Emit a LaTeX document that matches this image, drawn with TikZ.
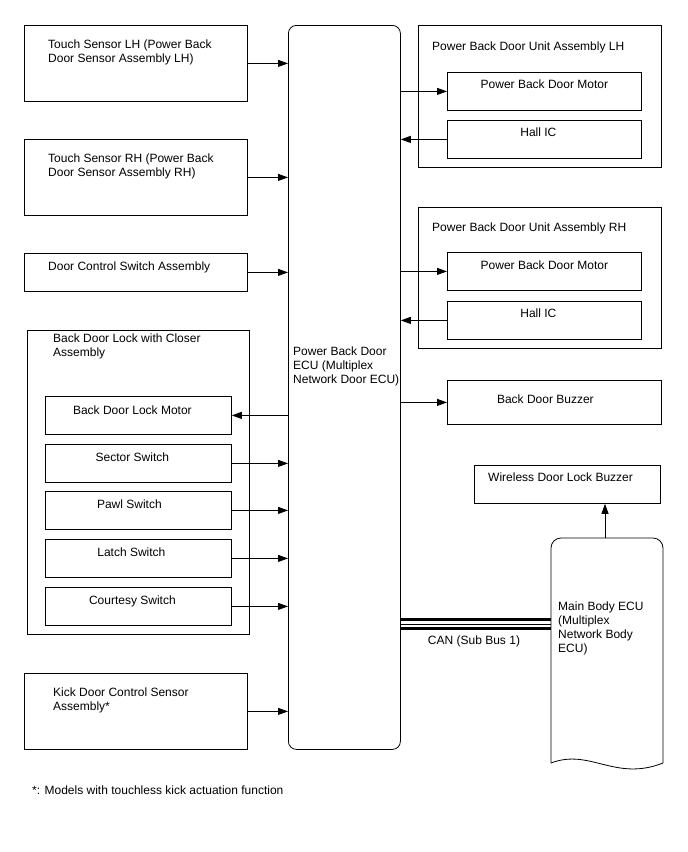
\documentclass[tikz,border=0pt]{standalone}
\usepackage{fontspec}
\setmainfont{Liberation Sans}
\usepackage{tikz}
\usetikzlibrary{arrows.meta,positioning,calc}

\tikzset{
  unit/.style={draw, line width=0.8pt, anchor=north west, inner sep=0pt},
  ttl/.style={anchor=north west, inner sep=0pt, align=left},
  ttc/.style={anchor=north, inner sep=0pt},
  sig/.style={-{Triangle[length=10pt,width=7pt]}, line width=0.8pt},
}

\begin{document}
\begin{tikzpicture}[x=1pt, y=-1pt, every node/.style={font=\fontsize{12}{14}\selectfont}]
  \useasboundingbox (0,0) rectangle (688,852);
  % central ECU
  \node[unit, rounded corners=8pt, minimum width=112pt, minimum height=724pt] (ecu) at (288,25) {};
  \node[ttl] (ecutxt) at (293,347) {Power Back Door\\ECU (Multiplex\\Network Door ECU)};
  % left inputs
  \node[unit, minimum width=223pt, minimum height=76pt,
        label={[ttl, xshift=24pt, yshift=-15pt]north west:{Touch Sensor LH (Power Back\\Door Sensor Assembly LH)}}] (tsl) at (24,25) {};
  \node[unit, minimum width=223pt, minimum height=76pt,
        label={[ttl, xshift=24pt, yshift=-15pt]north west:{Touch Sensor RH (Power Back\\Door Sensor Assembly RH)}}] (tsr) at (24,139) {};
  \node[unit, minimum width=223pt, minimum height=38pt,
        label={[ttl, xshift=24pt, yshift=-9pt]north west:{Door Control Switch Assembly}}] (dcs) at (24,253) {};
  % back door lock group
  \node[unit, minimum width=222pt, minimum height=304pt,
        label={[ttl, xshift=26pt, yshift=-4pt]north west:{Back Door Lock with Closer\\Assembly}}] (lock) at (27,330) {};
  \node[unit, minimum width=186pt, minimum height=38pt,
        label={[ttc, xshift=-6pt, yshift=-10pt]north:{Back Door Lock Motor}}] (lkm) at (45,396) {};
  \node[unit, minimum width=186pt, minimum height=38pt,
        label={[ttc, xshift=-6pt, yshift=-9pt]north:{Sector Switch}}] (sec) at (45,444) {};
  \node[unit, minimum width=186pt, minimum height=38pt,
        label={[ttc, xshift=-9pt, yshift=-9pt]north:{Pawl Switch}}] (pawl) at (45,491) {};
  \node[unit, minimum width=186pt, minimum height=38pt,
        label={[ttc, xshift=-7pt, yshift=-9pt]north:{Latch Switch}}] (latch) at (45,539) {};
  \node[unit, minimum width=186pt, minimum height=38pt,
        label={[ttc, xshift=-6pt, yshift=-9pt]north:{Courtesy Switch}}] (cty) at (45,587) {};
  \node[unit, minimum width=223pt, minimum height=76pt,
        label={[ttl, xshift=29pt, yshift=-15pt]north west:{Kick Door Control Sensor\\Assembly*}}] (kick) at (24,673) {};
  % right outputs
  \node[unit, minimum width=243pt, minimum height=142pt,
        label={[ttl, xshift=14pt, yshift=-17pt]north west:{Power Back Door Unit Assembly LH}}] (pbdl) at (418,25) {};
  \node[unit, minimum width=194pt, minimum height=38pt,
        label={[ttc, yshift=-8pt]north:{Power Back Door Motor}}] (motl) at (447,72) {};
  \node[unit, minimum width=194pt, minimum height=38pt,
        label={[ttc, xshift=-6pt, yshift=-8pt]north:{Hall IC}}] (hall) at (447,120) {};
  \node[unit, minimum width=243pt, minimum height=141pt,
        label={[ttl, xshift=14pt, yshift=-16pt]north west:{Power Back Door Unit Assembly RH}}] (pbdr) at (418,207) {};
  \node[unit, minimum width=194pt, minimum height=38pt,
        label={[ttc, yshift=-9pt]north:{Power Back Door Motor}}] (motr) at (447,252) {};
  \node[unit, minimum width=194pt, minimum height=38pt,
        label={[ttc, xshift=-6pt, yshift=-8pt]north:{Hall IC}}] (hallr) at (447,301) {};
  \node[unit, minimum width=214pt, minimum height=44pt,
        label={[ttc, xshift=-9pt, yshift=-15pt]north:{Back Door Buzzer}}] (bzr) at (447,380) {};
  \node[unit, minimum width=186pt, minimum height=38pt,
        label={[ttl, xshift=14pt, yshift=-8pt]north west:{Wireless Door Lock Buzzer}}] (wdl) at (474,465) {};
  % main body ECU (wavy bottom)
  \draw[line width=0.8pt, rounded corners=10pt] (551,763) -- (551,538) -- (663,538) -- (663,763);
  \draw[line width=0.8pt] (663,763) .. controls (615,782) and (590,748) .. (551,763);
  \coordinate (mbtop) at (605,538);
  \node[ttl] (mbe) at (558,602) {Main Body ECU\\(Multiplex\\Network Body\\ECU)};
  % signal arrows
  \foreach \src in {tsl,tsr,dcs,sec,pawl,latch,cty,kick}
    \draw[sig] (\src.east) -- (\src.east -| ecu.west);
  \draw[sig] (lkm.east -| ecu.west) -- (lkm.east);
  \foreach \dst in {motl,motr,bzr}
    \draw[sig] (\dst.west -| ecu.east) -- (\dst.west);
  \foreach \src in {hall,hallr}
    \draw[sig] (\src.west) -- (\src.west -| ecu.east);
  \draw[sig] (mbtop) -- (mbtop |- wdl.south);
  % CAN bus
  \coordinate (canl) at (400,624);
  \coordinate (canr) at (551,624);
  \draw[line width=2.8pt] ([yshift=4.2pt]canl) -- ([yshift=4.2pt]canr);
  \draw[line width=1pt] (canl) -- (canr);
  \draw[line width=2.8pt] ([yshift=-4.2pt]canl) -- ([yshift=-4.2pt]canr);
  \node (can) at (474,641) {CAN (Sub Bus 1)};
  % footnote
  \node[ttl] (note) at (32,786) {*: Models with touchless kick actuation function};
\end{tikzpicture}
\end{document}
